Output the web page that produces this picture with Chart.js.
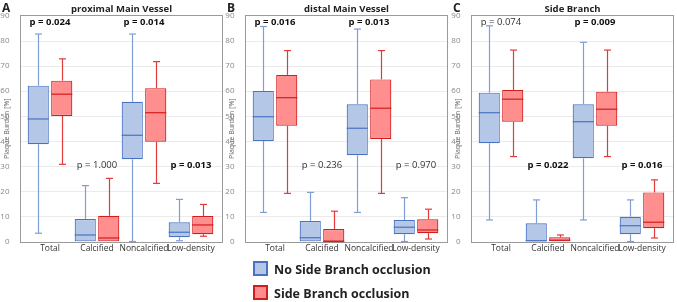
<!DOCTYPE html>
<html>
<head>
<meta charset="utf-8">
<script src="https://cdn.jsdelivr.net/npm/chart.js@4"></script>
<style>
body { margin: 0; background: #fff; width: 677px; height: 302px; position: relative; overflow: hidden; font-family: "Open Sans", sans-serif; }
.panel { position: absolute; top: 0; }
.legend { position: absolute; left: 253px; font-weight: bold; font-size: 12.5px; color: #222; line-height: 14px; }
.legend span { display: inline-block; width: 11px; height: 11px; vertical-align: -2px; margin-right: 6px; border: 2px solid; }
</style>
</head>
<body>
<div class="panel" style="left:0"><canvas id="chartA" width="226" height="256"></canvas></div>
<div class="panel" style="left:225px"><canvas id="chartB" width="226" height="256"></canvas></div>
<div class="panel" style="left:451px"><canvas id="chartC" width="226" height="256"></canvas></div>
<div class="legend" style="top:261px"><span style="background:#b4c7e7;border-color:#4a72c2"></span>No Side Branch occlusion</div>
<div class="legend" style="top:285px"><span style="background:#ff8f8f;border-color:#d41c1c"></span>Side Branch occlusion</div>
<script>
const categories = ['Total', 'Calcified', 'Noncalcified', 'Low-density'];

// [lower whisker, Q1, median, Q3, upper whisker] per category
const proxNoOcc = [[3.3, 38.8, 48.9, 62.2, 82.8], [0, 0, 2.6, 9.0, 22.3], [0, 32.8, 42.4, 55.8, 82.8], [0.3, 1.7, 3.7, 7.7, 16.8]];
const proxOcc   = [[30.8, 50.1, 58.8, 64.2, 72.9], [0, 0, 1.4, 10.3, 25.2], [23.2, 39.8, 51.4, 61.2, 71.8], [2.1, 2.9, 6.6, 10.2, 14.8]];
const distNoOcc = [[11.6, 40.1, 49.8, 60.1, 85.8], [0, 0, 1.5, 8.2, 19.6], [11.6, 34.4, 45.2, 54.8, 84.8], [0, 2.9, 5.7, 8.6, 17.5]];
const distOcc   = [[19.2, 46.2, 57.4, 66.5, 76.2], [0, 0, 0, 5.0, 12.1], [19.2, 40.9, 53.2, 64.7, 76.2], [1.0, 3.3, 4.6, 8.9, 12.9]];
const sideNoOcc = [[8.6, 39.2, 51.4, 59.4, 86.1], [0, 0, 0.3, 7.3, 16.6], [8.6, 33.2, 47.8, 54.8, 79.5], [0, 2.9, 6.3, 9.9, 16.6]];
const sideOcc   = [[33.9, 47.8, 56.8, 60.5, 76.4], [0, 0, 0.5, 1.7, 2.6], [33.9, 46.2, 52.8, 59.8, 76.4], [1.4, 5.3, 7.7, 19.6, 24.6]];

const proxP = ['0.024', '1.000', '0.014', '0.013'];
const distP = ['0.016', '0.236', '0.013', '0.970'];
const sideP = ['0.074', '0.022', '0.009', '0.016'];

const blue = { fill: '#b4c7e7', line: '#4a72c2', whisker: '#7f9dd6' };
const red = { fill: '#ff8f8f', line: '#d41c1c', whisker: '#e03a3a' };
const pRowY = [87.4, 30.6, 87.4, 30.6];

const boxPlugin = {
  id: 'boxes',
  beforeDatasetsDraw(chart) {
    const ctx = chart.ctx, y = chart.scales.y, a = chart.chartArea;
    const l = a.left - 6.5, r = a.right + 7.5;
    ctx.save();
    ctx.strokeStyle = '#ebebeb';
    ctx.lineWidth = 1;
    for (let v = 10; v < 90; v += 10) {
      const py = Math.round(y.getPixelForValue(v)) + 0.5;
      ctx.beginPath(); ctx.moveTo(l, py); ctx.lineTo(r, py); ctx.stroke();
    }
    ctx.strokeStyle = '#9a9a9a';
    ctx.strokeRect(Math.round(l) + 0.5, Math.round(y.getPixelForValue(90)) - 0.5, Math.round(r - l), Math.round(y.getPixelForValue(0) - y.getPixelForValue(90)) + 1);
    // whiskers
    chart.data.datasets.forEach((ds, i) => {
      const meta = chart.getDatasetMeta(i);
      meta.data.forEach((bar, j) => {
        const [lo, q1, , q3, hi] = ds.stats[j];
        const x = Math.round(bar.x) + 0.5;
        ctx.strokeStyle = ds.whiskerColor;
        ctx.lineWidth = 1.2;
        [[lo, q1], [hi, q3]].forEach(([end, edge]) => {
          if (end === edge) return;
          const pe = y.getPixelForValue(end);
          ctx.beginPath(); ctx.moveTo(x, pe); ctx.lineTo(x, y.getPixelForValue(edge)); ctx.stroke();
          ctx.beginPath(); ctx.moveTo(x - 3.5, pe); ctx.lineTo(x + 3.5, pe); ctx.stroke();
        });
      });
    });
    ctx.restore();
  },
  afterDatasetsDraw(chart, args, opts) {
    const ctx = chart.ctx, y = chart.scales.y, xs = chart.scales.x, a = chart.chartArea;
    ctx.save();
    chart.data.datasets.forEach((ds, i) => {
      const meta = chart.getDatasetMeta(i);
      meta.data.forEach((bar, j) => {
        const pm = y.getPixelForValue(ds.stats[j][2]);
        ctx.strokeStyle = ds.borderColor;
        ctx.lineWidth = 1.2;
        ctx.beginPath(); ctx.moveTo(bar.x - bar.width / 2, pm); ctx.lineTo(bar.x + bar.width / 2, pm); ctx.stroke();
      });
    });
    ctx.textAlign = 'center';
    ctx.textBaseline = 'middle';
    opts.pValues.forEach((p, j) => {
      const sig = parseFloat(p) < 0.05;
      ctx.font = (sig ? 'bold ' : '') + '9.5px "Open Sans"';
      ctx.fillStyle = sig ? '#111' : '#333';
      ctx.fillText('p = ' + p, xs.getPixelForValue(j), y.getPixelForValue(pRowY[j]));
    });
    ctx.font = 'bold 9.5px "Open Sans"';
    ctx.fillStyle = '#222';
    ctx.fillText(opts.title, (a.left + a.right) / 2 + 1, 9);
    ctx.textAlign = 'left';
    ctx.font = 'bold 12px "Open Sans"';
    ctx.fillText(opts.letter, 2, 9);
    ctx.restore();
  }
};

function makeChart(id, letter, title, noOcc, occ, pValues) {
  return new Chart(document.getElementById(id), {
    type: 'bar',
    data: {
      labels: categories,
      datasets: [
        { label: 'No Side Branch occlusion', stats: noOcc, data: noOcc.map(s => [s[1], s[3]]),
          backgroundColor: blue.fill, borderColor: blue.line, whiskerColor: blue.whisker,
          borderWidth: 1.2, borderSkipped: false, barPercentage: 0.9, categoryPercentage: 1 },
        { label: 'Side Branch occlusion', stats: occ, data: occ.map(s => [s[1], s[3]]),
          backgroundColor: red.fill, borderColor: red.line, whiskerColor: red.whisker,
          borderWidth: 1.2, borderSkipped: false, barPercentage: 0.9, categoryPercentage: 1 }
      ]
    },
    options: {
      responsive: false,
      animation: false,
      devicePixelRatio: 1,
      layout: { padding: { top: 16, right: 11.5, left: 0, bottom: 0 } },
      plugins: {
        legend: { display: false },
        tooltip: { enabled: false },
        boxes: { letter: letter, title: title, pValues: pValues }
      },
      scales: {
        x: {
          grid: { display: false, drawTicks: false },
          border: { display: false },
          ticks: { color: '#333', font: { family: 'Open Sans', size: 8.5 }, padding: 2, maxRotation: 0, autoSkip: false },
          afterFit(s) { s.height = 14.5; }
        },
        y: {
          min: 0, max: 90,
          grid: { display: false },
          border: { display: false },
          ticks: { stepSize: 10, color: '#888', font: { family: 'Open Sans', size: 8 }, padding: 9 },
          title: { display: true, text: 'Plaque Burden [%]', color: '#666', font: { family: 'Open Sans', size: 7 }, padding: { top: 3, bottom: 0 } },
          afterFit(s) { s.width = 26.5; }
        }
      }
    },
    plugins: [boxPlugin]
  });
}

makeChart('chartA', 'A', 'proximal Main Vessel', proxNoOcc, proxOcc, proxP);
makeChart('chartB', 'B', 'distal Main Vessel', distNoOcc, distOcc, distP);
makeChart('chartC', 'C', 'Side Branch', sideNoOcc, sideOcc, sideP);
</script>
</body>
</html>
